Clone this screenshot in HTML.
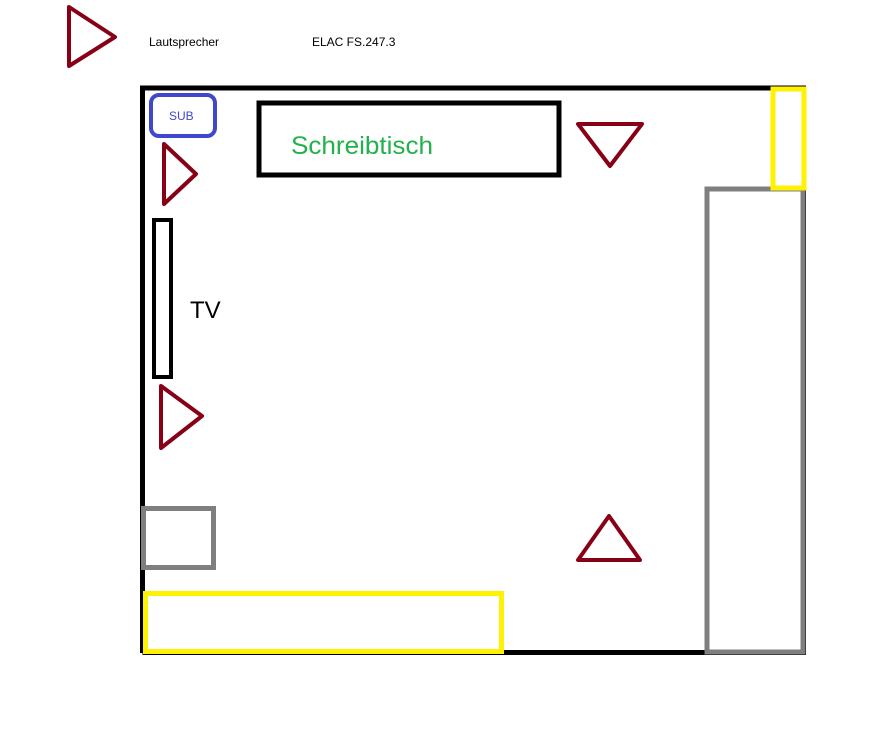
<!DOCTYPE html>
<html><head><meta charset="utf-8"><style>
html,body{margin:0;padding:0;background:#fff;}
svg{display:block;}
</style></head><body>
<svg width="874" height="747" viewBox="0 0 874 747" xmlns="http://www.w3.org/2000/svg">
<rect width="874" height="747" fill="#fff"/>
<!-- legend -->
<polygon points="69,7 115,37 69,66" fill="none" stroke="#880015" stroke-width="4" stroke-linejoin="round"/>
<text x="149" y="46" font-family="Liberation Sans, sans-serif" font-size="12" fill="#000">Lautsprecher</text>
<text x="312" y="46" font-family="Liberation Sans, sans-serif" font-size="12" fill="#000">ELAC FS.247.3</text>
<!-- room -->
<path d="M142.5,653 L142.5,88 L806,88" fill="none" stroke="#000" stroke-width="5"/>
<path d="M142.5,652.5 L806,652.5" fill="none" stroke="#000" stroke-width="5"/>
<path d="M804,88 L804,654" fill="none" stroke="#000" stroke-width="4"/>
<!-- right grey -->
<rect x="707" y="189" width="96" height="463" fill="#fff" stroke="#7f7f7f" stroke-width="5"/>
<!-- yellow top right -->
<rect x="773" y="89" width="31" height="99" fill="none" stroke="#fff200" stroke-width="5"/>
<!-- SUB -->
<rect x="151" y="95" width="64" height="41" rx="8" fill="none" stroke="#3f48cc" stroke-width="4"/>
<text x="169" y="120" font-family="Liberation Sans, sans-serif" font-size="12" fill="#3f48cc">SUB</text>
<!-- desk -->
<rect x="259" y="103" width="300" height="72" fill="none" stroke="#000" stroke-width="5"/>
<text x="291" y="154" font-family="Liberation Sans, sans-serif" font-size="25" fill="#22b14c" textLength="142" lengthAdjust="spacingAndGlyphs">Schreibtisch</text>
<!-- speakers -->
<polygon points="164,144 196,174 164,204" fill="none" stroke="#880015" stroke-width="4" stroke-linejoin="round"/>
<polygon points="161,386 202,416 161,448" fill="none" stroke="#880015" stroke-width="4" stroke-linejoin="round"/>
<polygon points="578,124 642,124 610,166" fill="none" stroke="#880015" stroke-width="4" stroke-linejoin="round"/>
<polygon points="609,516 578,560 640,560" fill="none" stroke="#880015" stroke-width="4" stroke-linejoin="round"/>
<!-- TV -->
<rect x="154" y="220" width="17" height="157" fill="none" stroke="#000" stroke-width="4"/>
<text x="190" y="318" font-family="Liberation Sans, sans-serif" font-size="24" fill="#000">TV</text>
<!-- grey small -->
<rect x="143.5" y="508.5" width="70" height="59" fill="none" stroke="#7f7f7f" stroke-width="5"/>
<!-- yellow bottom -->
<rect x="145.5" y="593.5" width="356" height="58" fill="none" stroke="#fff200" stroke-width="5"/>
</svg>
</body></html>
